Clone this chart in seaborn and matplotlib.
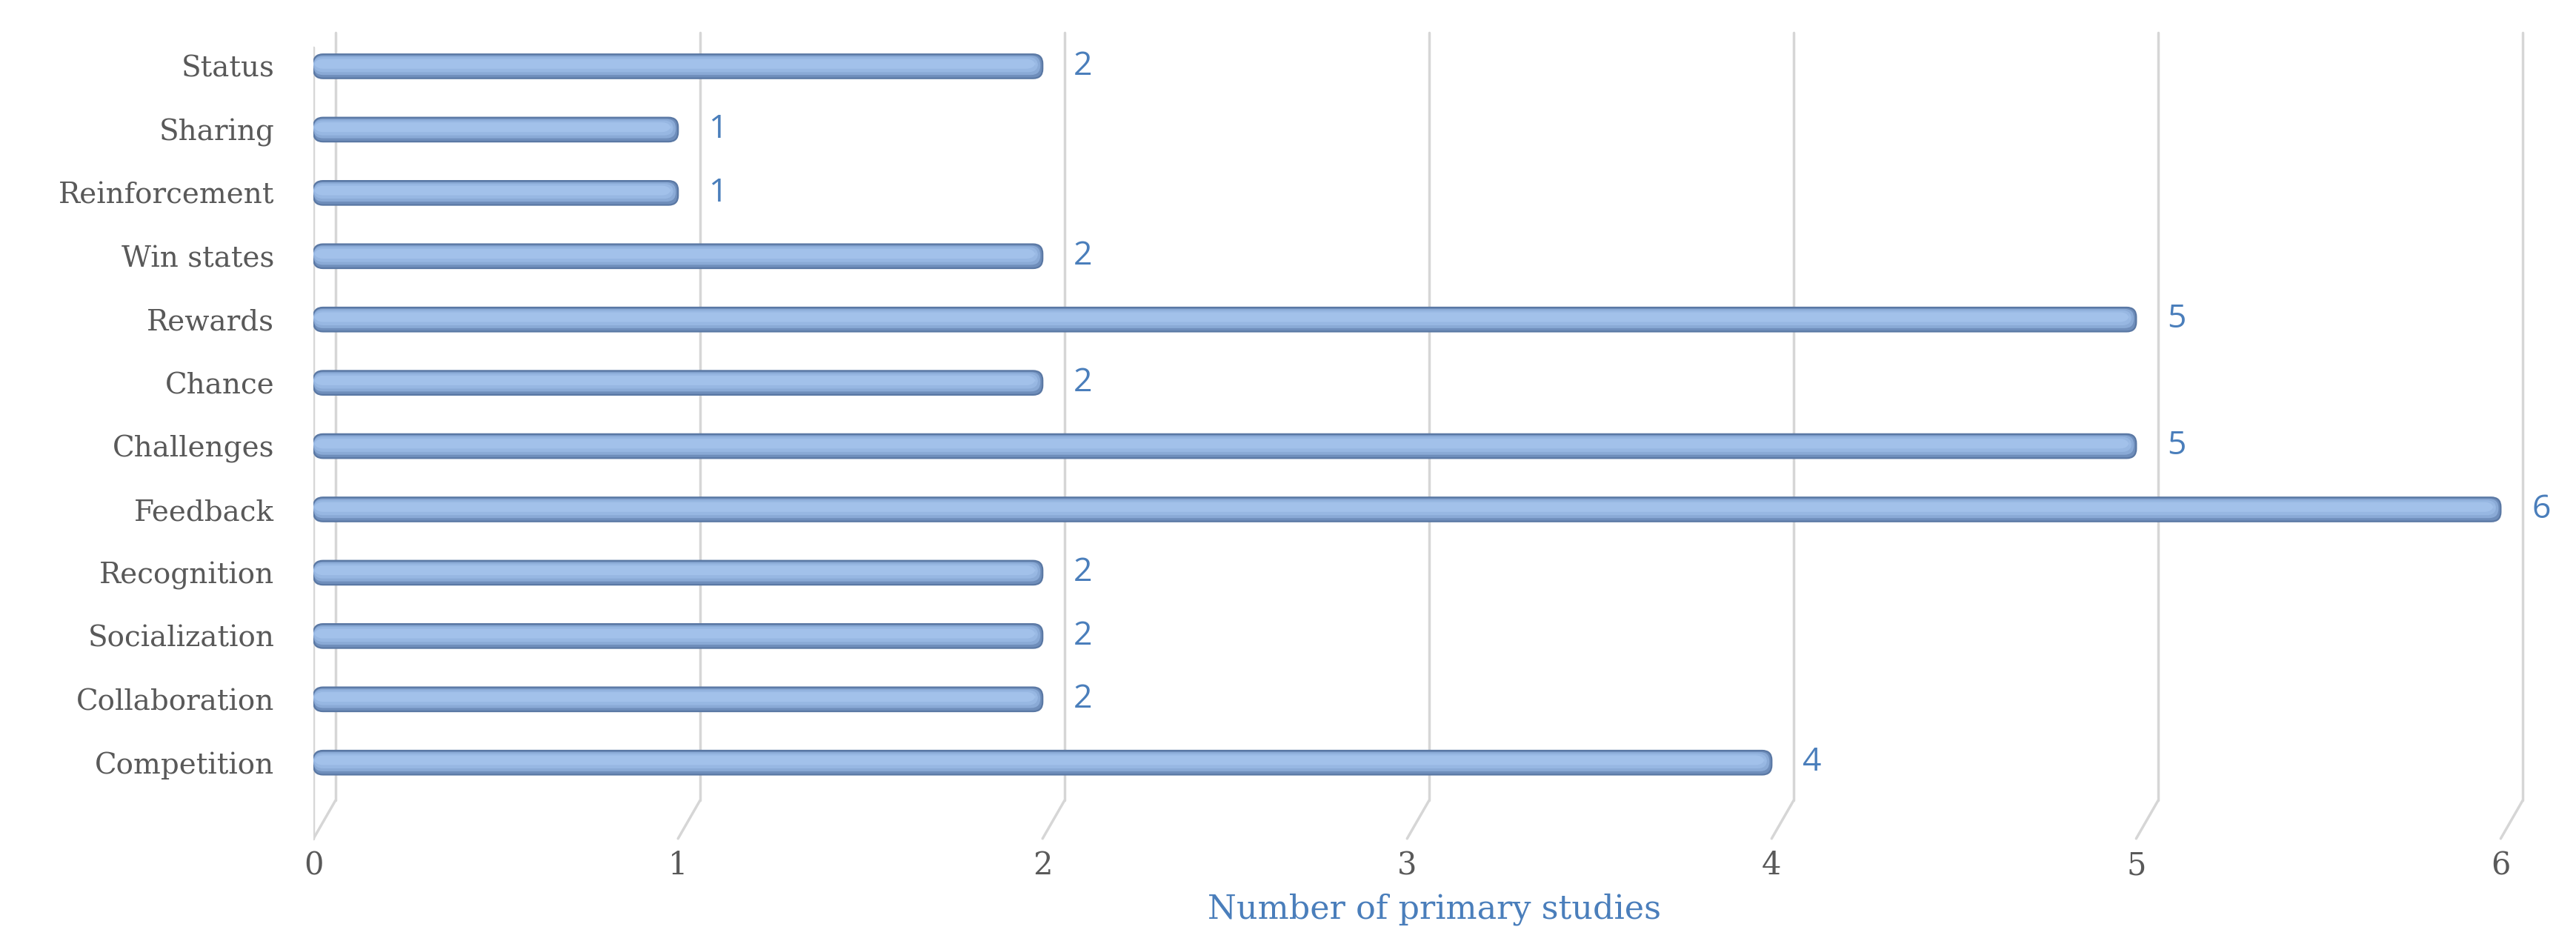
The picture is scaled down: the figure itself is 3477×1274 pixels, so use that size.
import pandas as pd
import seaborn as sns
import matplotlib.pyplot as plt
from matplotlib.patches import FancyBboxPatch

# chart data
categories = ["Status", "Sharing", "Reinforcement", "Win states", "Rewards", "Chance",
              "Challenges", "Feedback", "Recognition", "Socialization", "Collaboration",
              "Competition"]
studies = [2, 1, 1, 2, 5, 2, 5, 6, 2, 2, 2, 4]
x_ticks = [0, 1, 2, 3, 4, 5, 6]

df = pd.DataFrame({"mechanic": categories, "count": studies})

sns.set_theme(style="white")
plt.rcParams["font.family"] = ["DejaVu Serif"]

fig = plt.figure(figsize=(34.77, 12.74), dpi=100)
ax = fig.add_axes([0.1217, 0.1083, 0.8703, 0.8617])

sns.barplot(data=df, x="count", y="mechanic", orient="h", width=0.38,
            color="#9DBCE6", ax=ax, zorder=3)

ax.set_xlim(0, 6.15)
ax.set_ylim(12.25, -0.6)

# value labels
ax.bar_label(ax.containers[0], padding=30, fontsize=32, color="#4A7EBB",
             family=["Open Sans", "DejaVu Sans"])

# 3d-like gridlines with floor tails
grid_top, grid_bot, floor = -0.53, 11.6, 12.2
shift = 0.06
for t in x_ticks:
    ax.plot([t + shift, t + shift], [grid_top, grid_bot], color="#D6D6D6", lw=2.5, zorder=1)
    ax.plot([t + shift, t], [grid_bot, floor], color="#D6D6D6", lw=2.5, zorder=1)
ax.plot([0, 0], [-0.3, floor], color="#D6D6D6", lw=2.5, zorder=1)

# restyle bars as rounded tubes with soft shading
fig.canvas.draw()
p0 = ax.transData.transform((0, 0))
p1 = ax.transData.transform((1, 1))
aspect = abs(p1[0] - p0[0]) / abs(p1[1] - p0[1])
layers = [(0.0, 1.0, "#6F8EBB", 0.0),
          (0.06, 0.80, "#8AAAD6", 0.006),
          (0.12, 0.62, "#97B7E2", 0.012),
          (0.20, 0.40, "#A2C1EA", 0.018)]
for patch in ax.containers[0]:
    x0, y0 = patch.get_x(), patch.get_y()
    w, h = patch.get_width(), patch.get_height()
    patch.set_visible(False)
    for k, (top, frac, col, trim) in enumerate(layers):
        box = FancyBboxPatch((x0, y0 + top * h), w - trim, frac * h,
                             boxstyle="round,pad=0,rounding_size=0.026",
                             mutation_aspect=aspect, facecolor=col,
                             edgecolor="#5A78A4" if k == 0 else "none",
                             lw=1.6, zorder=3 + k)
        ax.add_patch(box)

ax.set_xticks(x_ticks)
ax.set_xticklabels([str(t) for t in x_ticks])
ax.tick_params(axis="x", length=0, pad=8, labelsize=30, labelcolor="#595959")
ax.tick_params(axis="y", length=0, pad=38, labelsize=28, labelcolor="#595959")
ax.set_ylabel("")
ax.set_xlabel("Number of primary studies", color="#4A7EBB", fontsize=32, labelpad=12)
for s in ax.spines.values():
    s.set_visible(False)
ax.grid(False)

fig.savefig("out.png", dpi=100, facecolor="white")
